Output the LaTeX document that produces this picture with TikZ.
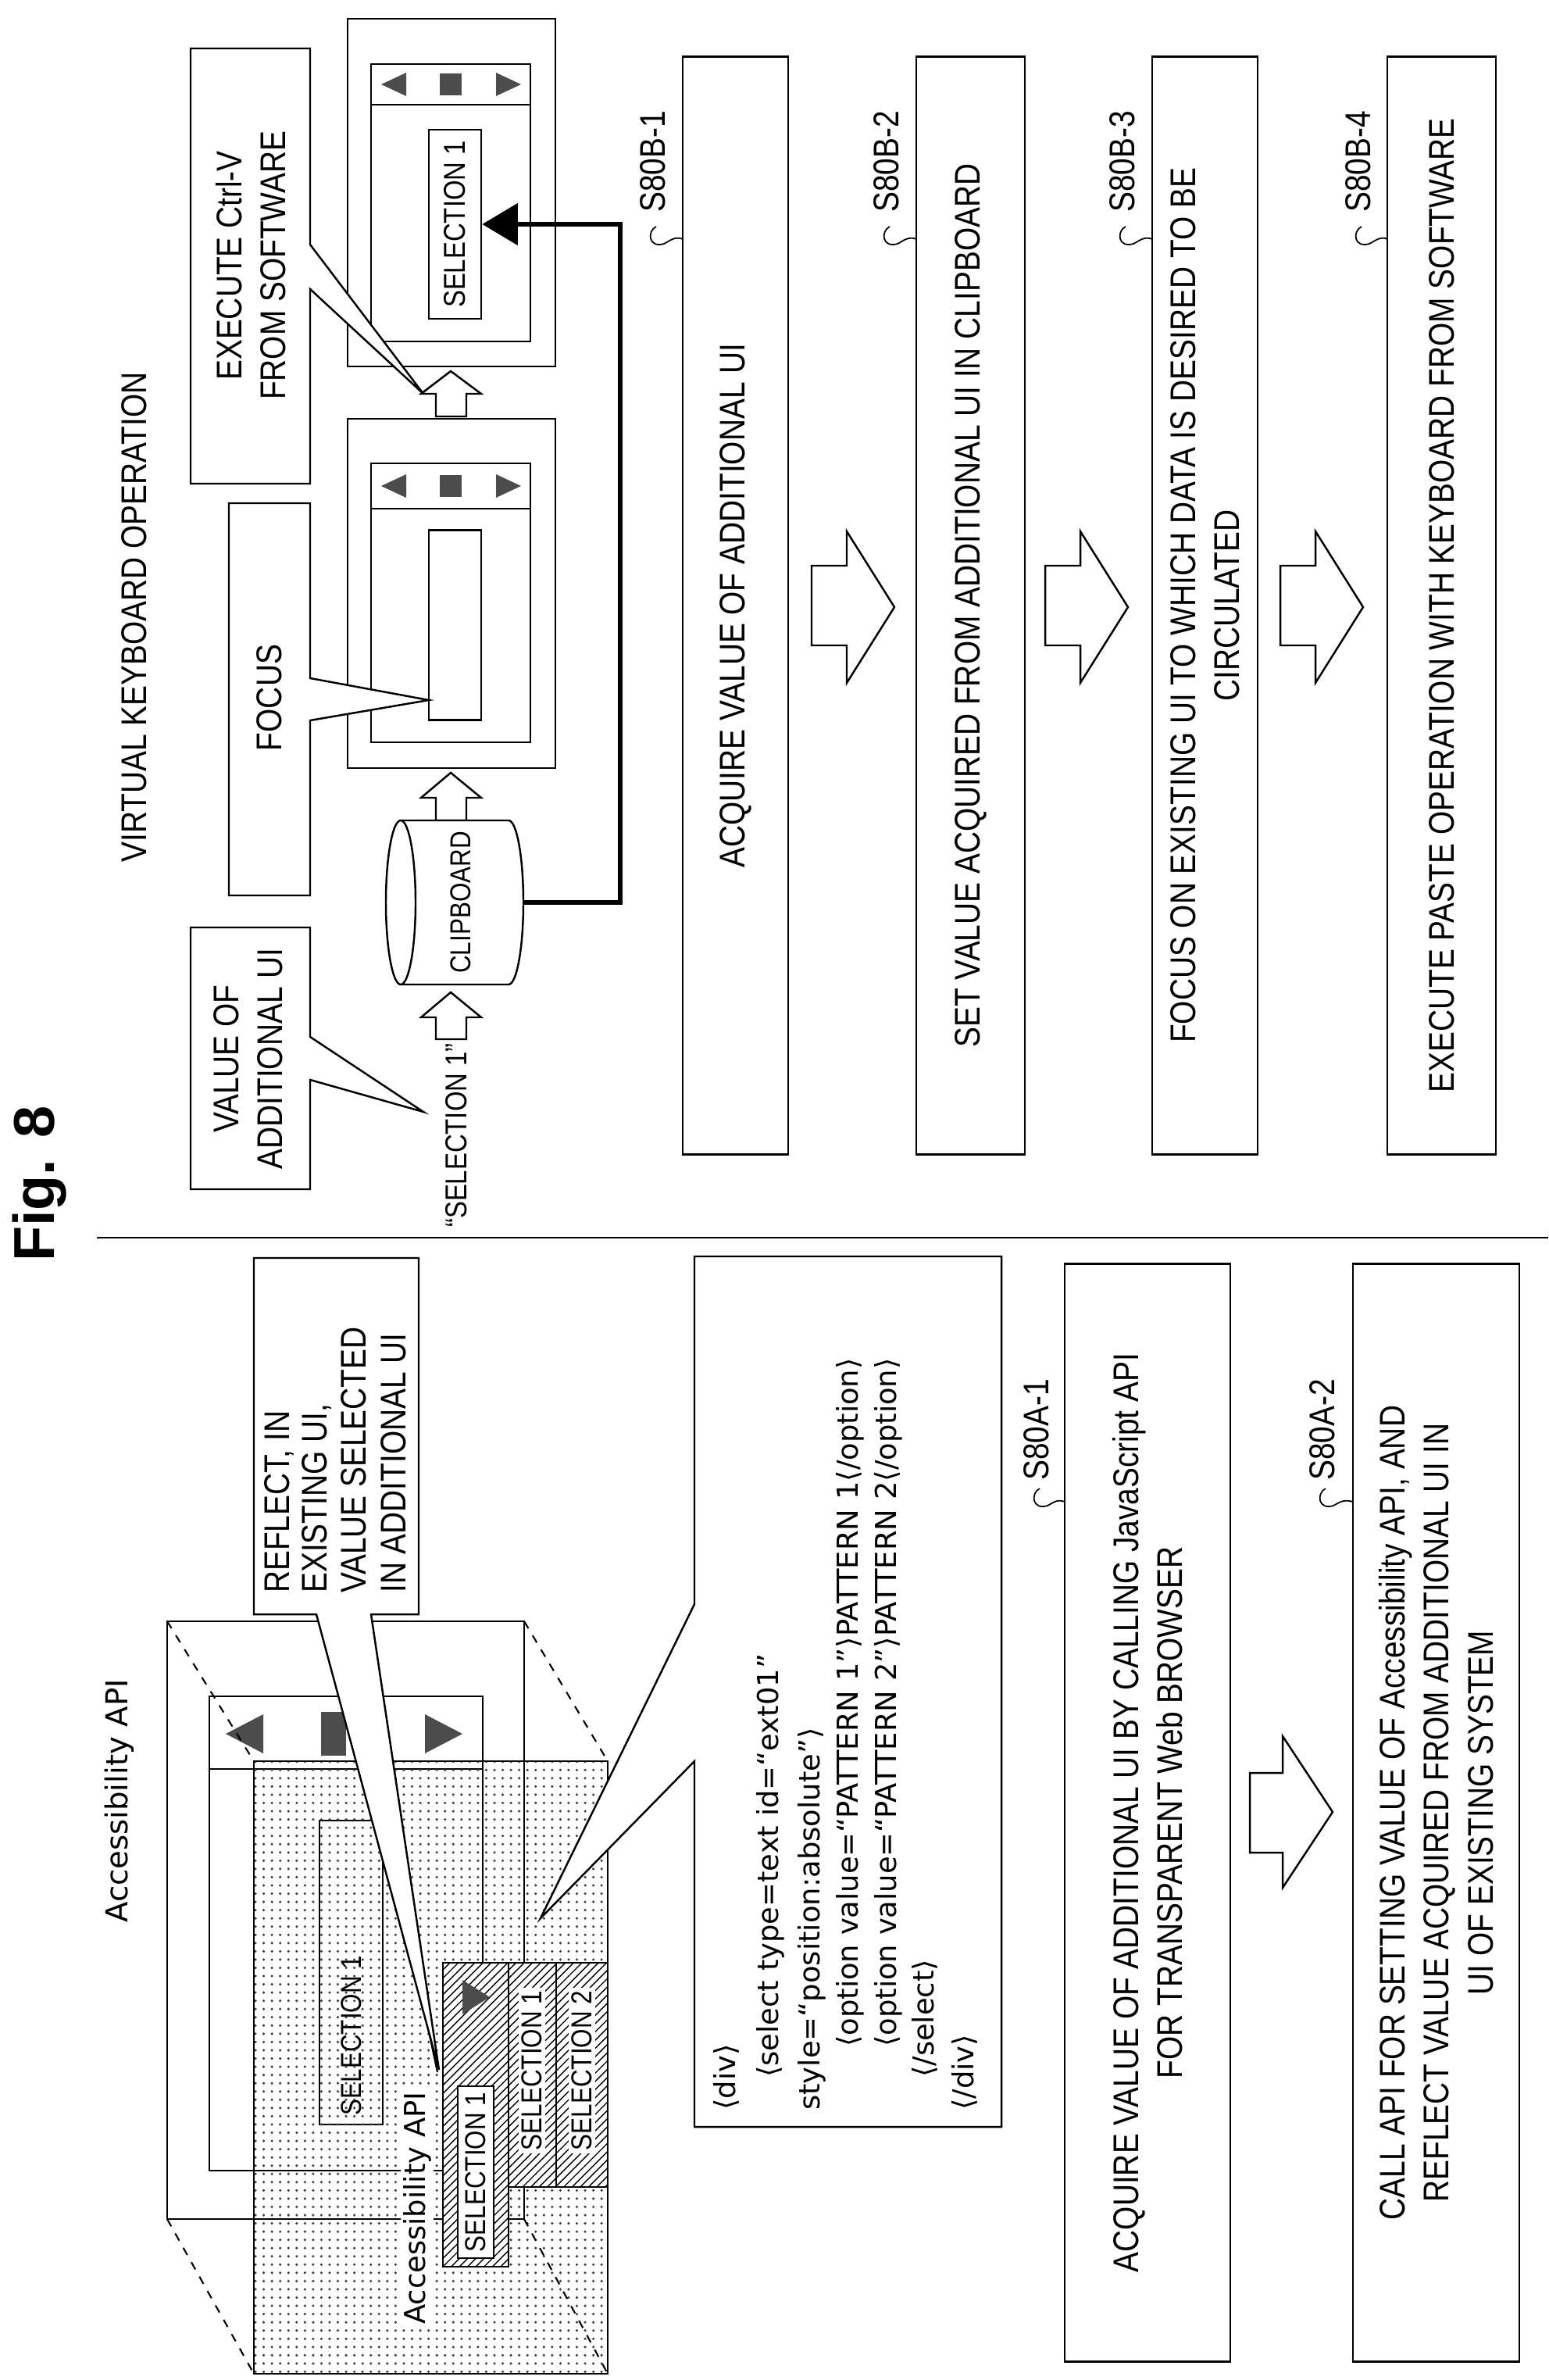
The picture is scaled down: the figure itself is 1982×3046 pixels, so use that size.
\documentclass[tikz,border=0pt]{standalone}
\usepackage{fontspec}
\setmainfont{Liberation Sans}[FakeStretch=0.85]
\newfontfamily\codefont{DejaVu Sans}
\newfontfamily\figfont{Liberation Sans}
\usetikzlibrary{patterns,arrows.meta}
\begin{document}
\begin{tikzpicture}[x=0.01cm,y=0.01cm,line width=0.7pt,
  lbl/.style={rotate=90,inner sep=0pt,font=\fontsize{13}{16}\selectfont,align=center},
  sml/.style={rotate=90,inner sep=1pt,font=\fontsize{11}{13}\selectfont},
  codeln/.style={rotate=90,anchor=west,inner sep=0pt,font=\codefont\fontsize{10.5}{12}\selectfont},
  stepbox/.style={draw,fill=white,rotate=90,minimum width=14.04cm,align=center,font=\fontsize{13}{16}\selectfont,inner sep=2pt},
  wbox/.style={draw,fill=white},
  blk/.style={draw,fill=white,line width=0.7pt,line join=miter},
  trifill/.style={fill=black!70},
  persp/.style={dashed,line width=0.6pt}]
\useasboundingbox (0,0) rectangle (1982,-3046);

% ---------------- title and divider
\node[rotate=90,font=\figfont\bfseries\fontsize{21}{24}\selectfont] (fig) at (51,-1515) {Fig. 8};
\draw[line width=0.8pt] (124,-1584) -- (1982,-1584);
\node[lbl] (vko) at (172,-790) {VIRTUAL KEYBOARD OPERATION};

% ---------------- window 2 (pasted)
\draw[wbox] (445,-24) rectangle (711,-469);
\draw[wbox] (475,-82) rectangle (679,-437);
\draw (475,-134) -- (679,-134);
\fill[trifill] (488,-108) -- (520,-93) -- (520,-123) -- cycle;
\fill[trifill] (563,-94) rectangle (591,-122);
\fill[trifill] (667,-108) -- (635,-93) -- (635,-123) -- cycle;
\node[draw,fill=white,rotate=90,minimum width=2.42cm,minimum height=0.67cm,inner sep=0pt,font=\fontsize{11}{13}\selectfont] (sel2) at (582.5,-287) {SELECTION 1};

% ---------------- window 1 (focus)
\draw[wbox] (445,-536) rectangle (711,-983);
\draw[wbox] (475,-593) rectangle (679,-950);
\draw (475,-651) -- (679,-651);
\fill[trifill] (488,-622) -- (520,-607) -- (520,-637) -- cycle;
\fill[trifill] (563,-608) rectangle (591,-636);
\fill[trifill] (667,-622) -- (635,-607) -- (635,-637) -- cycle;
\node[draw,fill=white,rotate=90,minimum width=2.43cm,minimum height=0.67cm,inner sep=0pt] (field) at (582.5,-800) {};

% ---------------- block arrows (pointing up in image)
\draw[blk] (577,-475) -- (616,-504) -- (597,-504) -- (597,-533) -- (558,-533) -- (558,-504) -- (539,-504) -- cycle;
\draw[blk] (577,-989) -- (616,-1021) -- (597,-1021) -- (597,-1050) -- (558,-1050) -- (558,-1021) -- (539,-1021) -- cycle;
\draw[blk] (577,-1270) -- (616,-1302) -- (597,-1302) -- (597,-1330) -- (558,-1330) -- (558,-1302) -- (539,-1302) -- cycle;

% ---------------- clipboard
\draw[fill=white] (513,-1050) -- (651,-1050) arc[start angle=90,end angle=-90,x radius=19,y radius=105] -- (513,-1260);
\draw[fill=white] (513,-1155) ellipse[x radius=19,y radius=105];
\node[sml,font=\fontsize{10.5}{12}\selectfont] (clip) at (590,-1155) {CLIPBOARD};
\coordinate (clipR) at (670,-1155);
\draw[line width=1.8pt,-{Triangle[length=13pt,width=15pt]}] (clipR) -- (794,-1155) -- (794,-287) -- (sel2.south);
\node[sml] (sq) at (584,-1453) {“SELECTION 1”};

% ---------------- callouts top
\draw[wbox] (244,-62) -- (397,-62) -- (397,-313) -- (542,-504) -- (397,-370) -- (397,-619) -- (244,-619) -- cycle;
\node[lbl] (exe) at (321,-340) {EXECUTE Ctrl-V\\FROM SOFTWARE};
\draw[wbox] (293,-644) -- (397,-644) -- (397,-868) -- (549,-896) -- (397,-922) -- (397,-1146) -- (293,-1146) -- cycle;
\node[lbl] (foc) at (345,-893) {FOCUS};
\draw[wbox] (244,-1187) -- (397,-1187) -- (397,-1327) -- (542,-1423) -- (397,-1382) -- (397,-1522) -- (244,-1522) -- cycle;
\node[lbl] (val) at (318,-1355) {VALUE OF\\ADDITIONAL UI};

% ---------------- steps B
\node[stepbox,minimum height=1.35cm] (b1) at (941.5,-775) {ACQUIRE VALUE OF ADDITIONAL UI};
\node[stepbox,minimum height=1.39cm] (b2) at (1242.5,-775) {SET VALUE ACQUIRED FROM ADDITIONAL UI IN CLIPBOARD};
\node[stepbox,minimum height=1.35cm] (b3) at (1542.5,-775) {FOCUS ON EXISTING UI TO WHICH DATA IS DESIRED TO BE\\CIRCULATED};
\node[stepbox,minimum height=1.39cm] (b4) at (1845.5,-775) {EXECUTE PASTE OPERATION WITH KEYBOARD FROM SOFTWARE};
\foreach \a/\b in {1039/1084,1338/1383,1639/1684}{
  \pgfmathsetmacro\c{\b+61}
  \draw[blk] (\a,-724) -- (\b,-724) -- (\b,-680) -- (\c,-777) -- (\b,-874) -- (\b,-826) -- (\a,-826) -- cycle;}
\node[lbl] (l1) at (836,-207) {S80B-1};
\node[lbl] (l2) at (1135,-207) {S80B-2};
\node[lbl] (l3) at (1437,-207) {S80B-3};
\node[lbl] (l4) at (1739,-207) {S80B-4};
\foreach \x/\e in {836/874,1135/1173,1437/1475,1739/1776}{
  \draw[line width=0.5pt] (\x+4,-290) .. controls (\x-8,-296) and (\x-6,-318) .. (\x+14,-312) .. controls (\x+22,-308) and (\x+28,-302) .. (\e,-306);}

% ---------------- existing UI with accessibility layer
\node[rotate=90,font=\codefont\fontsize{11}{13}\selectfont] (acc) at (153,-2305) {Accessibility API};
\draw[wbox] (214,-2075) rectangle (671,-2840);
\draw[wbox] (268,-2171) rectangle (618,-2778);
\draw (268,-2264) -- (618,-2264);
\fill[trifill] (289,-2219) -- (337,-2194) -- (337,-2244) -- cycle;
\fill[trifill] (411,-2191) rectangle (443,-2247);
\fill[trifill] (592,-2219) -- (544,-2194) -- (544,-2244) -- cycle;
\node[draw,fill=white,rotate=90,minimum width=3.89cm,minimum height=0.81cm,inner sep=0pt] (esel) at (449.5,-2524.5) {};
\node[sml,font=\fontsize{10.5}{12}\selectfont] (eselt) at (450,-2605) {SELECTION 1};
\draw[persp] (214,-2075) -- (325,-2254);
\draw[persp] (671,-2075) -- (778,-2254);
\draw[persp] (214,-2840) -- (325,-3038);
\fill[pattern=dots,pattern color=black!75] (325,-2254) rectangle (778,-3038);
\draw (325,-2254) rectangle (778,-3038);
\draw[persp] (671,-2840) -- (778,-3038);
% dropdown
\fill[white] (567,-2512) rectangle (651,-2901);
\fill[white] (651,-2512) rectangle (778,-2799);
\fill[pattern=north east lines] (567,-2512) rectangle (651,-2901);
\fill[pattern=north east lines] (651,-2512) rectangle (778,-2799);
\draw (567,-2512) rectangle (651,-2901);
\draw (651,-2512) rectangle (712,-2799);
\draw (712,-2512) rectangle (778,-2799);
\fill[trifill] (627,-2556) -- (592,-2534) -- (592,-2578) -- cycle;
\node[draw,fill=white,rotate=90,minimum width=2.2cm,minimum height=0.46cm,inner sep=0pt,font=\fontsize{10.5}{12}\selectfont] (dsel) at (609,-2780) {SELECTION 1};
\node[sml,fill=white,font=\fontsize{10.5}{12}\selectfont] (o1) at (681,-2650) {SELECTION 1};
\node[sml,fill=white,font=\fontsize{10.5}{12}\selectfont] (o2) at (745,-2650) {SELECTION 2};
\node[rotate=90,fill=white,inner sep=1pt,font=\codefont\fontsize{10.5}{12}\selectfont] (acc2) at (534,-2826) {Accessibility API};
\draw[line width=0.6pt,-{Triangle[length=9pt,width=7pt]}] (560,-2652) -- (esel.south east);

% callouts bottom
\draw[wbox] (325,-1610) -- (536,-1610) -- (536,-2066) -- (475,-2066) -- (562,-2649) -- (405,-2066) -- (325,-2066) -- cycle;
\node[lbl,anchor=west] (r1) at (357,-2040) {REFLECT, IN};
\node[lbl,anchor=west] (r2) at (405,-2040) {EXISTING UI,};
\node[lbl,anchor=west] (r3) at (453,-2040) {VALUE SELECTED};
\node[lbl,anchor=west] (r4) at (504,-2040) {IN ADDITIONAL UI};
\draw[wbox] (889,-1608) -- (1282,-1608) -- (1282,-2722) -- (889,-2722) -- (889,-2254) -- (692,-2455) -- (889,-2053) -- cycle;
\node[codeln] (c1) at (930,-2702) {⟨div⟩};
\node[codeln] (c2) at (986,-2660) {⟨select type=text id=“ext01”};
\node[codeln] (c3) at (1039,-2702) {style=“position:absolute”⟩};
\node[codeln] (c4) at (1088,-2621) {⟨option value=“PATTERN 1”⟩PATTERN 1⟨/option⟩};
\node[codeln] (c5) at (1137,-2621) {⟨option value=“PATTERN 2”⟩PATTERN 2⟨/option⟩};
\node[codeln] (c6) at (1184,-2660) {⟨/select⟩};
\node[codeln] (c7) at (1235,-2702) {⟨/div⟩};

% ---------------- steps A
\node[stepbox,minimum height=2.12cm] (a1) at (1469,-2320) {ACQUIRE VALUE OF ADDITIONAL UI BY CALLING JavaScript API\\FOR TRANSPARENT Web BROWSER};
\node[stepbox,minimum height=2.13cm] (a2) at (1838.5,-2320) {CALL API FOR SETTING VALUE OF Accessibility API, AND\\REFLECT VALUE ACQUIRED FROM ADDITIONAL UI IN\\UI OF EXISTING SYSTEM};
\draw[blk] (1600,-2269) -- (1642,-2269) -- (1642,-2222) -- (1706,-2319) -- (1642,-2416) -- (1642,-2371) -- (1600,-2371) -- cycle;
\node[lbl] (la1) at (1327,-1830) {S80A-1};
\node[lbl] (la2) at (1693,-1830) {S80A-2};
\foreach \x/\e in {1327/1363,1693/1732}{
  \draw[line width=0.5pt] (\x+4,-1905) .. controls (\x-8,-1911) and (\x-6,-1933) .. (\x+14,-1927) .. controls (\x+20,-1924) and (\x+26,-1918) .. (\e,-1922);}
\end{tikzpicture}
\end{document}
